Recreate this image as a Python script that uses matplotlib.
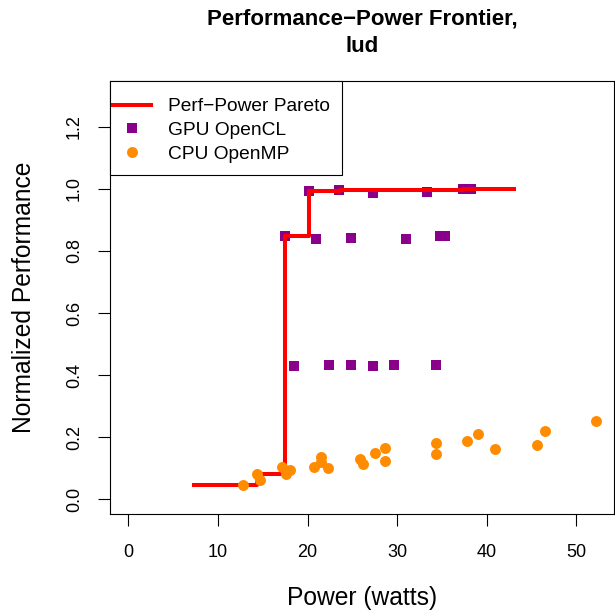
import matplotlib
matplotlib.use("Agg")
import matplotlib.pyplot as plt
from matplotlib.patches import Rectangle

# Pareto frontier (step line)
pareto_power = [7.3, 14.4, 17.2, 17.5, 20.2, 23.6, 37.4, 43.0]
pareto_perf = [0.046, 0.080, 0.102, 0.848, 0.994, 0.997, 1.0, 1.0]

# GPU OpenCL configurations
gpu_power = [20.2, 23.5, 27.3, 33.3, 37.4, 38.2,
             17.5, 20.9, 24.8, 31.0, 34.8, 35.3,
             18.5, 22.4, 24.8, 27.3, 29.6, 34.3]
gpu_perf = [0.994, 0.997, 0.986, 0.989, 1.0, 1.0,
            0.848, 0.838, 0.841, 0.840, 0.847, 0.847,
            0.428, 0.431, 0.431, 0.430, 0.434, 0.434]

# CPU OpenMP configurations
cpu_power = [12.8, 14.4, 14.7, 17.2, 17.6, 18.1, 20.7, 21.5, 21.5, 22.3,
             25.9, 26.2, 27.5, 28.7, 28.7, 34.3, 34.3, 37.8, 39.0, 40.9,
             45.6, 46.5, 52.2]
cpu_perf = [0.046, 0.080, 0.061, 0.104, 0.081, 0.094, 0.102, 0.136, 0.120, 0.099,
            0.128, 0.113, 0.149, 0.164, 0.123, 0.180, 0.144, 0.187, 0.209, 0.161,
            0.176, 0.219, 0.252]

x_ticks = [0, 10, 20, 30, 40, 50]
y_ticks = [0.0, 0.2, 0.4, 0.6, 0.8, 1.0, 1.2]

plt.rcParams['font.family'] = ['Liberation Sans', 'DejaVu Sans']

W, H = 615, 610
fig = plt.figure(figsize=(W / 100, H / 100), dpi=100)
left, right, top, bottom = 110, 614, 80.7, 514
pw, ph = right - left, bottom - top
ax = fig.add_axes([left / W, 1 - bottom / H, pw / W, ph / H])

ax.plot(gpu_power, gpu_perf, linestyle='none', marker='s', markersize=6.5,
        color='#8B008B', markeredgewidth=0, zorder=2, label='GPU OpenCL')
ax.plot(pareto_power, pareto_perf, drawstyle='steps-post', color='#FF0000',
        linewidth=2.9, zorder=3, label='Perf\u2212Power Pareto')
ax.plot(cpu_power, cpu_perf, linestyle='none', marker='o', markersize=7.9,
        color='#FF8C00', markeredgewidth=0, zorder=4, label='CPU OpenMP')

ax.set_xlim(-2.04, 54.2)
ax.set_ylim(-0.048, 1.349)
ax.set_xticks(x_ticks)
ax.set_xticklabels([str(t) for t in x_ticks])
ax.set_yticks(y_ticks)
ax.set_yticklabels(['%.1f' % t for t in y_ticks])
ax.tick_params(axis='both', direction='out', length=8.6, width=0.8, labelsize=13)
ax.tick_params(axis='x', pad=13)
ax.tick_params(axis='y', pad=11, labelrotation=90)
for lab in ax.get_yticklabels():
    lab.set_verticalalignment('center')
for sp in ax.spines.values():
    sp.set_linewidth(0.8)

# legend frame drawn separately (R-style: tight left padding)
box_w, box_h = 341.7 - left, 175 - 81
ax.add_patch(Rectangle((0, 1 - box_h / ph), box_w / pw, box_h / ph,
                       transform=ax.transAxes, facecolor='white',
                       edgecolor='black', linewidth=0.8, zorder=10,
                       clip_on=False))

handles, labels = ax.get_legend_handles_labels()
order = [1, 0, 2]
leg = ax.legend([handles[i] for i in order], [labels[i] for i in order],
                loc='upper left', bbox_to_anchor=((113 - left) / pw, 1 - (98 - top) / ph),
                borderaxespad=0, borderpad=0, frameon=False, fontsize=13.8,
                handlelength=2.0, handletextpad=0.88, labelspacing=0.33,
                numpoints=1)
leg.set_zorder(11)

fig.text((left + right) / 2 / W, 1 - 19 / H, 'Performance\u2212Power Frontier,',
         ha='center', va='center', fontsize=16, fontweight='bold')
fig.text((left + right) / 2 / W, 1 - 46 / H, 'lud',
         ha='center', va='center', fontsize=16, fontweight='bold')
fig.text((left + right) / 2 / W, 1 - 598 / H, 'Power (watts)',
         ha='center', va='center', fontsize=17.7)
fig.text(24 / W, 1 - 297 / H, 'Normalized Performance',
         ha='center', va='center', rotation=90, fontsize=17.7)

fig.savefig('out.png', dpi=100)
